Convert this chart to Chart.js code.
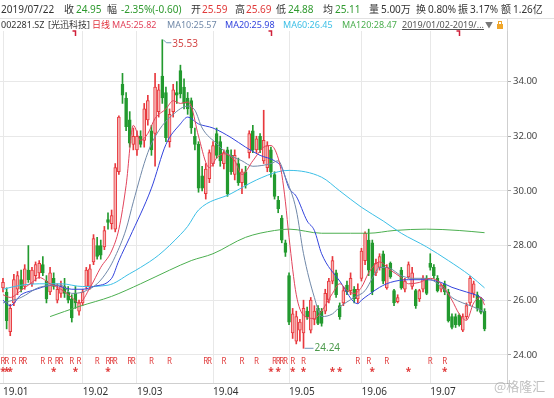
<!DOCTYPE html>
<html>
<head>
<meta charset="utf-8">
<script src="https://cdn.jsdelivr.net/npm/chart.js@4.4.0/dist/chart.umd.min.js"></script>
<style>
  html, body { margin: 0; padding: 0; background: #fff; }
  #wrap { position: relative; width: 554px; height: 398px; overflow: hidden;
          font-family: "Noto Sans", "Noto Sans CJK SC", sans-serif; }
  #kline { position: absolute; left: 0; top: 0; }
  .row1 { position: absolute; left: 0; top: 0; width: 554px; height: 18px; border-bottom: 1px solid #e2e2e2; font-size: 10px; }
  .row2 { position: absolute; left: 0; top: 19px; width: 554px; height: 12px; font-size: 9px; }
  .row1 span, .row2 span { position: absolute; white-space: nowrap; line-height: 1; }
  .row1 span { top: 4px; }
  .row2 span { top: 1px; }
  .k { color: #333; }
  .g { color: #2f9a2f; }
  .r { color: #e03a3a; }
  .lock { position: absolute; left: 497px; top: 24px; width: 6px; height: 5px; background: #f0a62a; }
  .lock:before { content: ""; position: absolute; left: 1px; top: -3px; width: 2px; height: 2px; border: 1px solid #f0a62a; border-bottom: none; }
  .vline { position: absolute; left: 507px; top: 19px; width: 1px; height: 12px; background: #d6d6d6; }
  .wm { position: absolute; left: 494px; top: 376px; font-size: 13px; color: rgba(140,140,140,0.55);
        font-family: "Noto Sans CJK SC", sans-serif; }
</style>
</head>
<body>
<div id="wrap">
  <canvas id="kline" width="554" height="398"></canvas>
  <div class="row1">
    <span class="k" style="left:1px">2019/07/22</span>
    <span class="k" style="left:64px">收</span>
    <span class="g" style="left:76px">24.95</span>
    <span class="k" style="left:107px">幅</span>
    <span class="g" style="left:121px">-2.35%(-0.60)</span>
    <span class="k" style="left:191px">开</span>
    <span class="r" style="left:202px">25.59</span>
    <span class="k" style="left:235px">高</span>
    <span class="r" style="left:246px">25.69</span>
    <span class="k" style="left:276px">低</span>
    <span class="g" style="left:288px">24.88</span>
    <span class="k" style="left:323px">均</span>
    <span class="g" style="left:335px">25.11</span>
    <span class="k" style="left:369px">量</span>
    <span class="k" style="left:381px">5.00万</span>
    <span class="k" style="left:416px">换</span>
    <span class="k" style="left:428px">0.80%</span>
    <span class="k" style="left:458px">振</span>
    <span class="k" style="left:470px">3.17%</span>
    <span class="k" style="left:501px">额</span>
    <span class="k" style="left:513px">1.26亿</span>
  </div>
  <div class="row2">
    <span class="k" style="left:1px">002281.SZ</span>
    <span class="k" style="left:48px">[光迅科技]</span>
    <span style="left:92px;color:#e0303a">日线</span>
    <span style="left:112px;color:#e2445c">MA5:25.82</span>
    <span style="left:167px;color:#7088a8">MA10:25.57</span>
    <span style="left:225px;color:#3344dd">MA20:25.98</span>
    <span style="left:283px;color:#3cbfe6">MA60:26.45</span>
    <span style="left:342px;color:#4caf50">MA120:28.47</span>
    <span style="left:402px;color:#555;text-decoration:underline">2019/01/02-2019/...</span>
    <span style="left:485px;color:#777;font-size:8px;top:2px">▼</span>
  </div>
  <div class="lock"></div>
  <div class="vline"></div>
  <div class="wm">@格隆汇</div>
</div>
<script>
  // daily candles 2019/01/02 - 2019/07/22, index = trading day
  const openP = [26.45,26.3,24.85,25.9,26.4,26.75,26.5,27.1,26.6,26.9,27.0,27.3,26.7,26.3,26.8,26.0,26.25,26.5,26.3,26.05,26.25,25.6,
                 25.9,26.5,26.5,27.4,28.0,28.0,27.95,28.95,28.8,28.6,30.7,33.9,33.4,32.6,31.7,
                 31.5,32.0,31.85,32.6,32.2,32.1,32.9,34.2,33.6,31.8,32.9,33.6,34.4,33.8,33.4,33.3,32.0,31.7,30.55,29.9,30.45,
                 31.0,32.1,31.8,31.0,31.5,31.3,30.6,31.0,30.3,30.7,31.4,32.2,31.5,32.0,31.1,30.85,31.5,30.6,29.65,29.0,28.1,
                 26.9,24.8,24.5,24.9,24.8,25.6,24.9,25.3,25.7,25.6,25.6,26.0,26.7,27.0,25.8,25.9,26.55,26.35,26.4,26.05,
                 26.8,27.45,28.2,28.1,27.0,27.2,27.7,26.45,27.35,26.35,25.95,27.1,26.4,26.85,26.5,26.35,26.05,26.4,26.8,
                 27.35,27.2,26.8,26.4,26.6,26.3,25.4,25.4,25.45,24.9,25.4,25.9,26.25,26.2,26.0,25.59];
  const highP = [26.8,26.45,25.85,26.95,27.05,27.1,27.3,28.0,27.2,27.4,27.45,27.6,26.9,27.2,27.0,26.6,26.7,26.8,26.5,26.2,26.5,26.0,
                 26.4,27.2,27.3,28.4,28.3,28.2,28.7,29.2,29.3,31.0,32.75,34.3,33.6,32.9,32.3,
                 32.2,32.2,33.2,33.5,32.4,34.3,33.9,35.53,33.8,33.0,33.9,34.0,34.6,34.1,33.6,33.4,32.3,31.8,30.9,31.0,31.5,
                 31.8,32.3,32.0,31.5,31.6,31.5,31.5,31.2,30.8,30.9,32.2,32.4,32.0,32.1,32.95,31.8,31.6,30.7,29.8,29.1,28.2,
                 27.0,25.7,25.6,25.3,26.0,25.75,26.1,25.8,25.8,25.7,26.4,26.8,27.6,27.1,25.9,26.5,26.7,27.0,26.5,26.6,
                 27.9,28.5,28.6,28.2,27.5,27.7,27.8,27.3,27.4,26.4,26.2,27.2,26.8,27.4,27.2,26.4,26.4,26.9,26.9,
                 27.7,27.3,26.9,26.6,26.7,26.4,25.5,25.5,25.5,25.5,25.9,26.87,26.7,26.3,26.1,25.69];
  const lowP = [26.3,24.95,24.7,25.8,26.2,26.3,26.4,26.65,26.5,26.7,26.8,26.9,25.9,26.2,26.4,25.9,26.1,26.1,25.9,25.2,25.7,25.45,
                25.8,26.4,26.4,27.3,27.5,27.5,27.85,28.6,28.6,28.5,30.6,33.2,32.2,31.6,31.5,
                31.3,31.6,31.6,32.4,31.3,30.9,32.7,33.2,31.8,31.6,32.7,33.2,33.4,33.0,32.8,32.1,31.5,29.95,30.0,29.7,30.3,
                30.9,31.2,30.9,30.8,29.8,30.6,30.4,30.2,29.9,30.1,31.2,31.4,31.4,31.4,31.0,30.7,30.5,29.7,29.2,28.1,27.6,
                25.1,24.6,24.4,24.5,24.24,25.3,24.8,25.1,25.1,25.05,25.5,25.9,26.6,26.1,25.3,25.8,26.2,26.2,25.9,25.9,
                26.7,27.3,26.9,26.2,26.9,27.1,26.6,26.4,26.8,25.8,25.9,26.4,26.3,26.8,26.4,25.7,25.95,26.3,26.2,
                27.1,26.8,26.3,26.3,26.2,25.2,24.95,25.0,25.05,24.85,25.3,25.8,26.1,25.6,25.5,24.88];
  const closeP = [26.65,25.25,25.7,26.75,26.9,26.4,27.15,26.75,27.1,27.3,27.35,27.0,26.05,27.0,26.5,26.4,26.5,26.25,26.0,25.35,25.9,25.9,
                  26.3,27.1,27.15,28.25,27.6,27.65,28.55,28.85,29.1,30.85,32.7,33.5,32.35,31.75,32.0,
                  32.0,31.7,33.0,33.3,31.5,33.8,33.7,33.4,31.95,32.8,33.7,33.5,33.55,33.2,33.0,32.3,31.7,30.1,30.1,30.8,31.4,
                  31.66,31.3,31.1,31.4,29.9,30.7,31.3,30.3,30.7,30.2,32.1,31.5,31.9,31.5,31.85,31.66,30.7,29.8,29.35,28.2,27.75,
                  25.2,25.5,25.4,25.2,25.7,25.4,26.0,25.6,25.15,25.15,26.25,26.7,27.45,26.2,25.4,26.35,26.3,26.8,26.05,26.4,
                  27.8,28.45,27.1,26.3,27.35,27.6,26.7,27.2,26.85,25.9,26.1,26.45,26.7,27.3,27.0,25.8,26.35,26.8,26.25,
                  27.2,26.9,26.35,26.55,26.3,25.25,25.0,25.1,25.1,25.4,25.8,26.8,26.6,25.7,25.55,24.95];

  // x axis: first trading day of each month
  const monthStart = [0, 22, 37, 58, 79, 99, 118];
  const monthLabels = ['19.01', '19.02', '19.03', '19.04', '19.05', '19.06', '19.07'];
  const yTicks = [24, 26, 28, 30, 32, 34];

  // moving averages (day index, price)
  const ma5Idx = [0,2,5,8,10,13,16,19,21,24,27,30,32,34,36,38,40,42,45,47,49,51,52,54,57,59,61,64,66,69,72,74,76,77,78,79,81,83,86,88,91,93,95,97,99,101,104,107,110,112,115,118,121,124,126,128,130,132,133];
  const ma5Val = [26.2,26.1,26.36,26.65,26.83,26.6,26.4,26.1,25.9,26.45,27.2,27.8,28.6,30.2,32.4,31.85,32.1,32.65,33.0,33.3,33.2,33.25,33.1,32.0,30.85,31.2,31.36,31.1,30.6,31.1,31.6,31.66,31.2,30.6,29.6,28.3,26.2,25.45,25.33,25.6,26.25,26.6,26.36,26.25,26.47,27.0,27.4,27.1,26.83,26.6,26.65,26.8,26.6,26.0,25.5,25.26,25.9,26.1,25.82];
  const ma10Idx = [0,5,10,16,19,22,26,29,31,34,36,40,43,47,51,53,55,59,62,66,69,74,76,78,81,83,86,88,91,93,97,100,102,104,106,110,113,117,121,124,127,130,133];
  const ma10Val = [25.9,26.1,26.47,26.55,26.25,26.3,26.6,27.1,27.6,28.6,29.6,31.4,32.2,32.8,33.1,32.95,32.3,31.73,31.36,31.1,30.9,31.0,31.1,30.5,29.3,27.7,26.1,25.4,25.5,25.75,26.1,26.35,26.8,27.2,27.2,26.9,26.8,26.8,26.5,26.1,25.9,25.75,25.57];
  const ma20Idx = [0,2,5,8,14,19,22,25,30,32,35,41,45,49,51,54,58,63,67,71,75,77,79,81,84,86,88,93,98,99,101,104,107,112,117,121,124,128,132,133];
  const ma20Val = [26.0,25.8,26.2,26.35,26.55,26.4,26.4,26.5,26.8,27.45,28.3,30.1,31.7,32.45,32.7,32.45,32.3,31.95,31.6,31.3,31.1,30.85,30.1,29.8,28.9,28.55,27.7,26.7,25.87,26.0,26.2,26.47,26.65,26.75,26.75,26.65,26.47,26.3,26.1,25.98];
  const ma60Idx = [0,5,10,16,22,29,35,38,43,49,51,54,63,70,76,79,88,93,99,105,110,117,123,129,133];
  const ma60Val = [26.4,26.55,26.6,26.6,26.5,26.55,26.97,27.2,27.65,28.4,28.7,29.3,29.9,30.4,30.7,30.75,30.5,30.0,29.4,28.9,28.45,27.95,27.45,26.9,26.45];
  const ma120Idx = [13,21,30,38,46,52,58,67,75,79,88,96,101,108,117,126,133];
  const ma120Val = [25.4,25.77,26.14,26.6,27.1,27.45,27.7,28.3,28.55,28.6,28.45,28.45,28.45,28.55,28.6,28.55,28.47];

  // signal rows under the candles and flags on top
  const rIdx = [0,1,3,5,6,11,13,15,16,19,21,26,29,30,31,35,36,41,46,56,57,61,66,70,75,76,77,78,80,83,98,101,106,118,122];
  const starIdx = [0,1,2,14,20,29,74,76,80,83,91,93,102,112,122];
  const flagIdx = [20, 74, 126];
  const rRowVal = 23.74, starRowVal = 23.45;
  const peakIdx = 44, peakVal = 35.53;
  const lowIdx = 83, lowVal = 24.24;

  const UP = '#e8383d', UP_FILL = '#f6b4b4', DOWN = '#239a2f';
  const isUp = i => closeP[i] >= openP[i];

  const pts = (idx, val) => idx.map((x, k) => ({ x: x, y: val[k] }));

  const marksPlugin = {
    id: 'marks',
    afterDatasetsDraw(chart) {
      const { ctx, chartArea } = chart;
      const x = chart.scales.x, y = chart.scales.y;
      ctx.save();
      ctx.fillStyle = '#e03a3a';
      ctx.textAlign = 'center';
      ctx.textBaseline = 'middle';
      ctx.font = '8px "Noto Sans", sans-serif';
      rIdx.forEach(i => ctx.fillText('R', x.getPixelForValue(i), y.getPixelForValue(rRowVal)));
      ctx.font = 'bold 10px "Noto Sans", sans-serif';
      starIdx.forEach(i => ctx.fillText('*', x.getPixelForValue(i), y.getPixelForValue(starRowVal) + 2));

      // little flags along the top edge
      ctx.strokeStyle = '#d0203a';
      ctx.lineWidth = 1.5;
      flagIdx.forEach(i => {
        const px = Math.round(x.getPixelForValue(i)) + 0.5;
        ctx.beginPath();
        ctx.moveTo(px - 3, chartArea.top);
        ctx.lineTo(px, chartArea.top);
        ctx.lineTo(px, chartArea.top + 5);
        ctx.stroke();
      });

      // max / min labels
      ctx.lineWidth = 1;
      ctx.strokeStyle = '#6f98b8';
      ctx.textAlign = 'left';
      ctx.font = '10px "Noto Sans", sans-serif';
      let px = x.getPixelForValue(peakIdx), py = y.getPixelForValue(peakVal);
      ctx.beginPath();
      ctx.moveTo(px + 1, py);
      ctx.lineTo(px + 4, py + 3);
      ctx.lineTo(px + 9, py + 3);
      ctx.stroke();
      ctx.fillStyle = '#d44848';
      ctx.fillText(peakVal.toFixed(2), px + 10, py + 4);

      px = x.getPixelForValue(lowIdx); py = y.getPixelForValue(lowVal);
      ctx.beginPath();
      ctx.moveTo(px + 1, py);
      ctx.lineTo(px + 10, py);
      ctx.stroke();
      ctx.fillStyle = '#4c9a4c';
      ctx.fillText(lowVal.toFixed(2), px + 11, py);
      ctx.restore();
    }
  };

  Chart.defaults.font.family = '"Noto Sans", "Noto Sans CJK SC", sans-serif';

  const days = openP.map((v, i) => i);

  new Chart(document.getElementById('kline'), {
    type: 'bar',
    data: {
      datasets: [
        { type: 'line', label: 'MA5', data: pts(ma5Idx, ma5Val), borderColor: '#e2445c', borderWidth: 1,
          pointRadius: 0, cubicInterpolationMode: 'monotone', order: 0 },
        { type: 'line', label: 'MA10', data: pts(ma10Idx, ma10Val), borderColor: '#7088a8', borderWidth: 1,
          pointRadius: 0, cubicInterpolationMode: 'monotone', order: 0 },
        { type: 'line', label: 'MA20', data: pts(ma20Idx, ma20Val), borderColor: '#3344dd', borderWidth: 1,
          pointRadius: 0, cubicInterpolationMode: 'monotone', order: 0 },
        { type: 'line', label: 'MA60', data: pts(ma60Idx, ma60Val), borderColor: '#3cbfe6', borderWidth: 1,
          pointRadius: 0, cubicInterpolationMode: 'monotone', order: 0 },
        { type: 'line', label: 'MA120', data: pts(ma120Idx, ma120Val), borderColor: '#4caf50', borderWidth: 1,
          pointRadius: 0, cubicInterpolationMode: 'monotone', order: 0 },
        { label: 'body', data: days.map(i => ({ x: i, y: [openP[i], closeP[i]] })),
          backgroundColor: days.map(i => isUp(i) ? UP_FILL : DOWN),
          borderColor: days.map(i => isUp(i) ? UP : DOWN),
          borderWidth: 1, borderSkipped: false, barThickness: 3, minBarLength: 1, grouped: false, order: 1 },
        { label: 'wick', data: days.map(i => ({ x: i, y: [lowP[i], highP[i]] })),
          backgroundColor: days.map(i => isUp(i) ? UP : DOWN),
          borderWidth: 0, barThickness: 1, grouped: false, order: 2 }
      ]
    },
    options: {
      responsive: false,
      animation: false,
      layout: { padding: { top: 31, left: 0, right: 0, bottom: 0 } },
      plugins: { legend: { display: false }, tooltip: { enabled: false } },
      scales: {
        x: {
          type: 'linear', min: -0.83, max: 139.2, offset: false,
          grid: { color: '#e8e8e8', drawTicks: false, offset: false },
          border: { color: '#cfcfcf' },
          afterBuildTicks: s => { s.ticks = monthStart.map(v => ({ value: v })); },
          afterFit: s => { s.height = 15; },
          ticks: { align: 'start', autoSkip: false, maxRotation: 0, padding: 3, color: '#333', font: { size: 10 },
                   callback: v => monthLabels[monthStart.indexOf(v)] }
        },
        y: {
          type: 'linear', position: 'right', min: 22.97, max: 35.85, beginAtZero: false,
          grid: { color: '#e8e8e8', tickLength: 4, tickColor: '#aaa' },
          border: { color: '#cfcfcf' },
          afterBuildTicks: s => { s.ticks = yTicks.map(v => ({ value: v })); },
          afterFit: s => { s.width = 47; },
          ticks: { padding: 2, color: '#444', font: { size: 9.5 }, callback: v => v.toFixed(2) }
        }
      }
    },
    plugins: [marksPlugin]
  });
</script>
</body>
</html>
